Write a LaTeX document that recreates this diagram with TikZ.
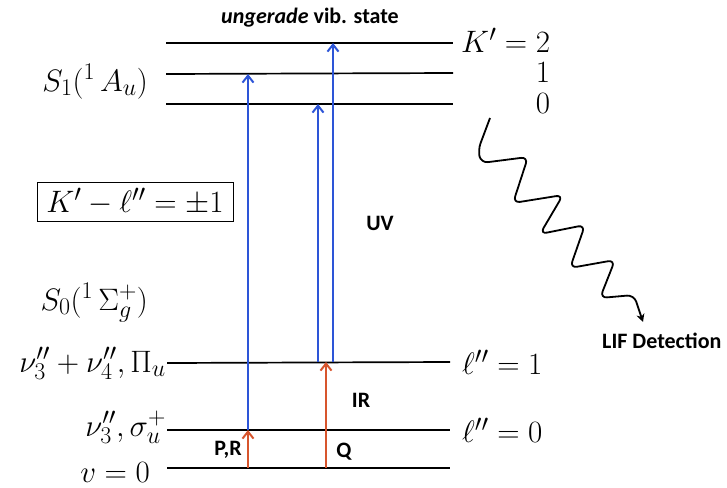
\RequirePackage{fix-cm}
\documentclass[tikz,border=0pt]{standalone}
\usepackage{fontspec}
\newfontfamily\calib{Carlito}
\DeclareMathSizes{31}{31}{24}{18}
\usetikzlibrary{arrows.meta}
\definecolor{uvblue}{RGB}{45,85,215}
\definecolor{irred}{RGB}{215,85,45}
\begin{document}
\begin{tikzpicture}[x=1pt,y=-1pt,
  level/.style={line width=1.7pt},
  uvarrow/.style={uvblue,line width=2pt,-{Straight Barb[length=7pt,width=11pt]}},
  irarrow/.style={irred,line width=2pt,-{Straight Barb[length=7pt,width=11pt]}},
  mathlab/.style={font=\fontsize{31}{37}\selectfont,inner sep=0pt},
  sanslab/.style={font=\calib\bfseries\fontsize{22}{26}\selectfont,inner sep=0pt}]
\useasboundingbox (0,0) rectangle (727,487);
% level end points
\coordinate (k2l) at (166,43);  \coordinate (k2r) at (453,43);
\coordinate (k1l) at (166,74);  \coordinate (k1r) at (453,73);
\coordinate (k0l) at (166,104); \coordinate (k0r) at (453,104);
\coordinate (l1l) at (167,363); \coordinate (l1r) at (450,362);
\coordinate (l0l) at (167,430); \coordinate (l0r) at (450,430);
\coordinate (gl)  at (167,468); \coordinate (gr)  at (450,468);
\draw[level] (k2l) -- (k2r);
\draw[level] (k1l) -- (k1r);
\draw[level] (k0l) -- (k0r);
\draw[level] (l1l) -- (l1r);
\draw[level] (l0l) -- (l0r);
\draw[level] (gl) -- (gr);
% arrow end points
\coordinate (a1b) at (248,430); \coordinate (a1t) at (248,74);
\coordinate (a2b) at (318,362); \coordinate (a2t) at (318,104);
\coordinate (a3b) at (333,362); \coordinate (a3t) at (333,43);
\coordinate (p1b) at (248,468); \coordinate (p1t) at (248,430);
\coordinate (q1b) at (326,468); \coordinate (q1t) at (326,362);
\draw[uvarrow] (a1b) -- (a1t);
\draw[uvarrow] (a2b) -- (a2t);
\draw[uvarrow] (a3b) -- (a3t);
\draw[irarrow] (p1b) -- (p1t);
\draw[irarrow] (q1b) -- (q1t);
% labels
\node[sanslab] (title) at (310,18) {\itshape ungerade\upshape{} vib. state};
\node[mathlab,anchor=base east] (s1) at (148,91) {$S_1(^1\,A_u)$};
\node[mathlab,draw,line width=1pt,minimum width=196pt,minimum height=39pt] (sel) at (135,201.5) {$K'-\ell''=\pm1$};
\node[mathlab,anchor=base east] (s0) at (148,310) {$S_0(^1\,\Sigma_g^+)$};
\node[mathlab,anchor=base east] (n34) at (166,372) {$\nu_3''+\nu_4'',\Pi_u$};
\node[mathlab,anchor=base east] (n3) at (166,436) {$\nu_3'',\sigma_u^+$};
\node[mathlab,anchor=base east] (v0) at (150,482) {$v=0$};
\node[mathlab,anchor=west] (k2) at (461,40) {$K'=2$};
\node[mathlab] (k1) at (543,73) {$1$};
\node[mathlab] (k0) at (543,104) {$0$};
\node[mathlab,anchor=west] (ll1) at (462,362) {$\ell''=1$};
\node[mathlab,anchor=west] (ll0) at (462,430) {$\ell''=0$};
\node[sanslab] (uv) at (380,223) {UV};
\node[sanslab] (ir) at (361,400) {IR};
\node[sanslab] (pr) at (228,450) {P,R};
\node[sanslab] (q) at (344,452) {Q};
\node[sanslab,anchor=west] (lif) at (602,341) {LIF Detection};
% fluorescence wave
\coordinate (w0) at (490,118);
\coordinate (w11) at (643,322);
\draw[line width=1.8pt,rounded corners=7pt,-{Stealth[length=8pt,width=8pt]}]
  (w0) -- (478,150) -- (481,163) -- (528,157) -- (513,203) -- (563,195)
  -- (540,234) -- (585,225) -- (570,268) -- (615,260) -- (600,298)
  -- (634,295) -- (w11);
\end{tikzpicture}
\end{document}
